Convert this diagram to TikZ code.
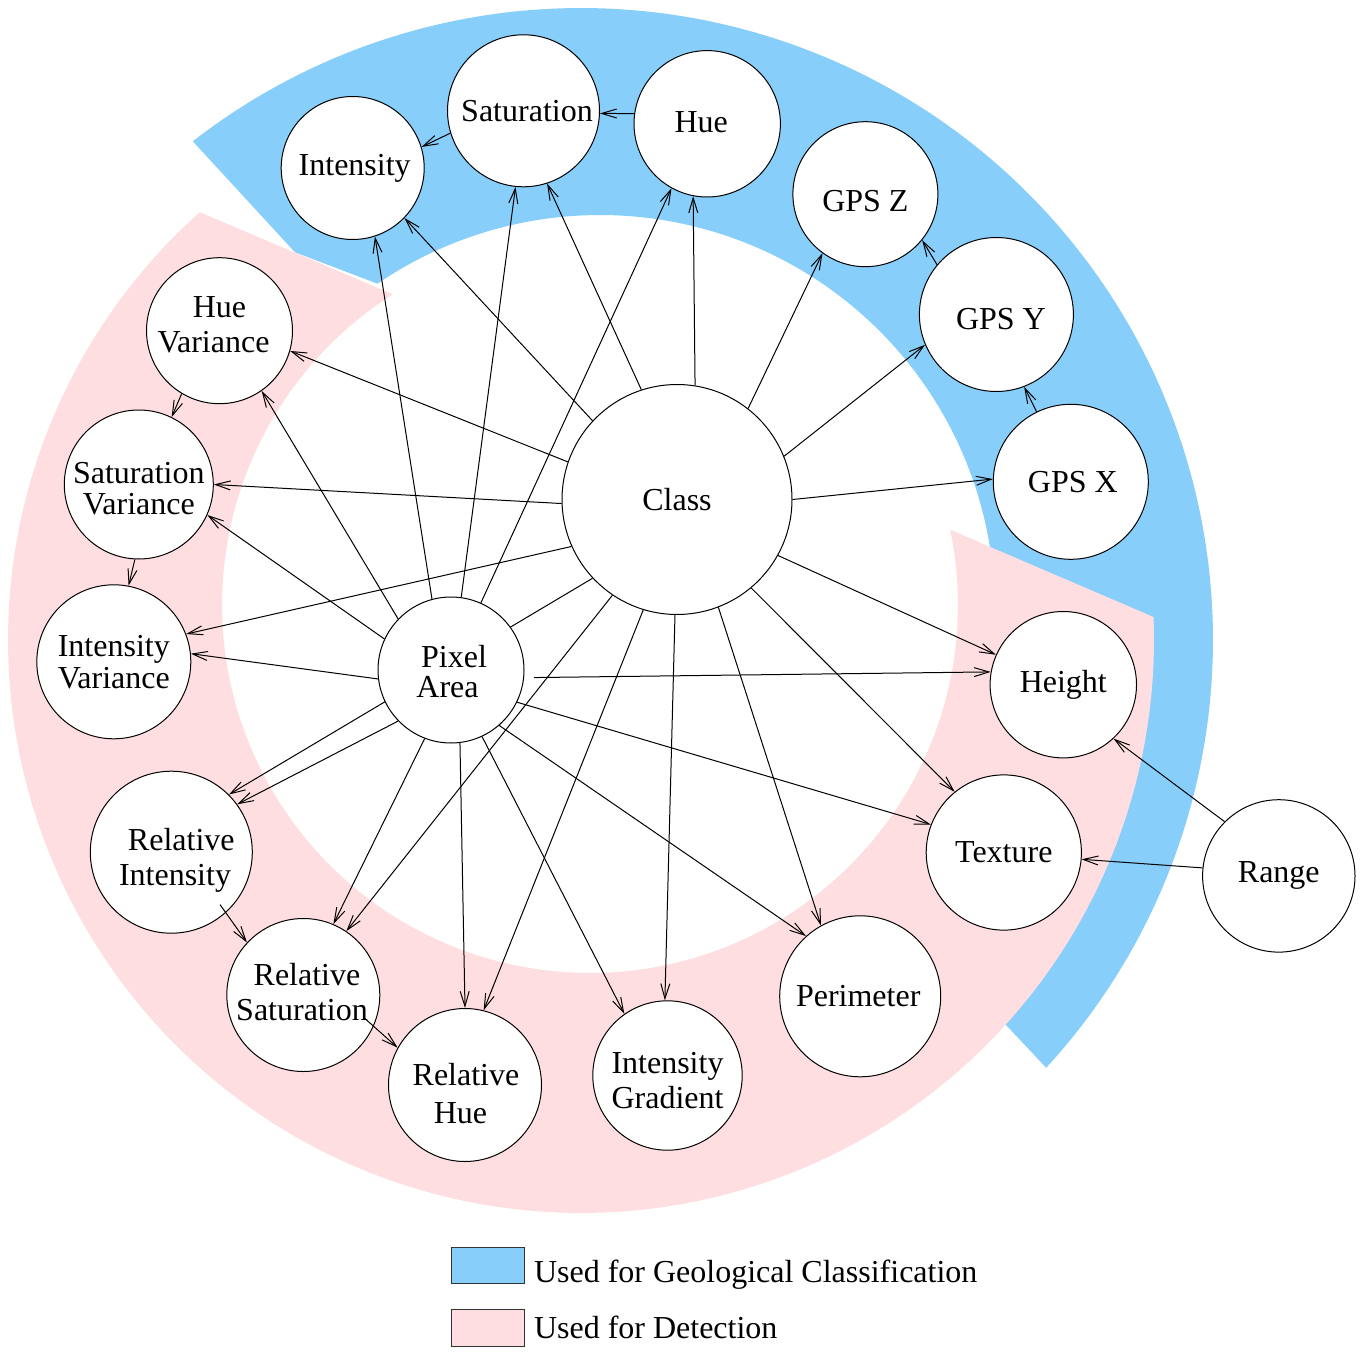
\documentclass[tikz,border=0pt]{standalone}
\usepackage{fontspec}
\setmainfont{Liberation Serif}
\usetikzlibrary{arrows.meta,calc}
\pgfdeclarelayer{bg}
\pgfdeclarelayer{edges}
\pgfsetlayers{bg,edges,main}
\definecolor{geoblue}{RGB}{135,206,250}
\definecolor{detpink}{RGB}{255,222,225}
\begin{document}
\begin{tikzpicture}[x=0.5pt,y=-0.5pt,
  vn/.style={circle,draw,line width=0.5pt,fill=white,inner sep=0pt},
  lb/.style={font=\fontsize{16}{17.5}\selectfont,align=center,inner sep=0pt},
  arr/.style={line width=0.5pt,-{Straight Barb[length=7.5pt,width=4.5pt]}},
  legbox/.style={draw=black!80,line width=0.5pt,minimum width=36.25pt,minimum height=18.3pt,
    inner sep=0pt,anchor=north west},
  legtext/.style={anchor=base west,inner sep=0pt,font=\fontsize{16}{17.5}\selectfont}]
\useasboundingbox (0,0) rectangle (1364,1353);

% background bands
\begin{pgfonlayer}{bg}
\fill[geoblue] plot[domain=-127.9:42.6,samples=150] ({581+632*cos(\x)},{640+632*sin(\x)})
  -- (960,976)
  -- plot[domain=45:-124.3,samples=150] ({600+395*cos(\x)},{610+395*sin(\x)})
  -- (295,252.3) -- cycle;
\fill[detpink] plot[domain=-2.3:228.3,samples=150] ({581+573*cos(\x)},{640+573*sin(\x)})
  -- plot[domain=237.6:-11.8,samples=150] ({590+368*cos(\x)},{605+368*sin(\x)})
  -- cycle;
\end{pgfonlayer}

% nodes (circles with their texts)
\node[vn,minimum size=115pt,label={[lb]center:Class}] (class) at (677,499.5) {};
\node[vn,minimum size=73pt,label={[lb,font=\fontsize{16}{15}\selectfont,xshift=-1.75pt,yshift=-0.6pt]center:\hspace*{6.5pt}Pixel\\Area}] (pa) at (451,670) {};
\node[vn,minimum size=71.5pt,label={[lb,xshift=1pt]center:Intensity}] (int) at (352.7,168) {};
\node[vn,minimum size=76pt,label={[lb,xshift=1.75pt]center:Saturation}] (sat) at (523.5,110.8) {};
\node[vn,minimum size=73.2pt,label={[lb,xshift=-3pt,yshift=0.85pt]center:Hue}] (hue) at (707.2,123.8) {};
\node[vn,minimum size=72.5pt,label={[lb,yshift=-3.5pt]center:GPS Z}] (gpsz) at (865.4,194.2) {};
\node[vn,minimum size=77pt,label={[lb,xshift=2.25pt,yshift=-2.5pt]center:GPS Y}] (gpsy) at (996.4,314.5) {};
\node[vn,minimum size=77.5pt,label={[lb,xshift=1pt]center:GPS X}] (gpsx) at (1070.8,481.8) {};
\node[vn,minimum size=73pt,label={[lb,yshift=3pt]center:Hue\\Variance\hspace*{6pt}}] (hv) at (219.5,330.7) {};
\node[vn,minimum size=74.5pt,label={[lb,font=\fontsize{16}{15.7}\selectfont,yshift=-2.2pt]center:Saturation\\Variance}] (sv) at (138.8,484.5) {};
\node[vn,minimum size=77pt,label={[lb,font=\fontsize{16}{16.15}\selectfont]center:Intensity\\Variance}] (iv) at (113.8,661.8) {};
\node[vn,minimum size=81pt,label={[lb,xshift=1.85pt,yshift=-4.3pt]center:\hspace*{6.3pt}Relative\\Intensity}] (ri) at (171.3,852.2) {};
\node[vn,minimum size=76.5pt,label={[lb,xshift=-0.65pt,yshift=1.25pt]center:\hspace*{5pt}Relative\\Saturation}] (rs) at (303.3,995) {};
\node[vn,minimum size=76.5pt,label={[lb,font=\fontsize{16}{19}\selectfont,xshift=0.5pt,yshift=-4.5pt]center:Relative\\Hue\hspace*{5.6pt}}] (rh) at (465,1085) {};
\node[vn,minimum size=74.7pt,label={[lb,yshift=-2.35pt]center:Intensity\\Gradient}] (ig) at (667.5,1075.5) {};
\node[vn,minimum size=80.5pt,label={[lb,xshift=-1pt]center:Perimeter}] (perim) at (860.2,996.3) {};
\node[vn,minimum size=77.6pt,label={[lb]center:Texture}] (texture) at (1003.8,852.5) {};
\node[vn,minimum size=73.2pt,label={[lb]center:Height}] (height) at (1063.3,684.7) {};
\node[vn,minimum size=76.2pt,label={[lb]center:Range}] (range) at (1278.8,875.9) {};

% edges
\begin{pgfonlayer}{edges}
\draw[arr] (class.137.5) -- (int.-44.7);
\draw[arr] (class.108.7) -- (sat.-72.3);
\draw[arr] (class.81.5) -- (hue.-101.2);
\draw[arr] (class.52) -- (gpsz.-126.1);
\draw[arr] (class.22.2) -- (gpsy.203.4);
\draw[arr] (class.0.1) -- (gpsx.178.8);
\draw[arr] (class.-29.8) -- (height.156.5);
\draw[arr] (class.-50) -- (texture.129.7);
\draw[arr] (class.-69.7) -- (perim.119.1);
\draw[arr] (class.-91) -- (ig.92.5);
\draw[arr] (class.-107.7) -- (rh.76.5);
\draw[arr] (class.-124.1) -- (rs.56.5);
\draw[arr] (class.-137) -- (ri.45.8);
\draw[arr] (class.-156.2) -- (iv.21.7);
\draw[arr] (class.-178.1) -- (sv.-0.9);
\draw[arr] (class.161.1) -- (hv.-16.4);

\draw[arr] (pa.105.4) -- (int.-72.4);
\draw[arr] (pa.82.8) -- (sat.-96.2);
\draw[arr] (pa.66.5) -- (hue.-119.3);
\draw[arr] (pa.136.1) -- (hv.-55.8);
\draw[arr] (pa.155.6) -- (sv.-24.1);
\draw[arr] (pa.187.8) -- (iv.6);
\draw[arr] (pa.-136.1) -- (ri.36.6);
\draw[arr] (pa.-111.1) -- (rs.67.7);
\draw[arr] (pa.-83) -- (rh.90.6);
\draw[arr] (pa.-65.8) -- (ig.125.7);
\draw[arr] (pa.-49.2) -- (perim.132.4);
\draw[arr] (pa.-26.3) -- (texture.159.7);
\draw[arr,shorten <=5pt] (pa.-6.9) -- (height.170.5);

\draw[arr] (hue.172.1) -- (sat.-2);
\draw[arr] (sat.-163.3) -- (int.17.1);
\draw[arr] (gpsy.140.1) -- (gpsz.-39.4);
\draw[arr] (gpsx.116.3) -- (gpsy.-69.1);
\draw[arr] (range.135.9) -- (height.-47);
\draw[arr] (range.174.3) -- (texture.-5.2);
\draw[arr] (hv.-121.7) -- (sv.64.7);
\draw[arr] (sv.-93.5) -- (iv.79.4);
\end{pgfonlayer}
\draw[arr,shorten <=-5pt] (ri.-48.4) -- (rs.137.6);
\draw[arr,shorten <=-6pt] (rs.-24) -- (rh.151.1);

% legend
\node[legbox,fill=geoblue] (legblue) at (451.4,1246.7) {};
\node[legbox,fill=detpink] (legpink) at (451.4,1309.3) {};
\node[legtext] (legbluetext) at (533.6,1282.7) {Used for Geological Classification};
\node[legtext] (legpinktext) at (533.6,1338.3) {Used for Detection};
\end{tikzpicture}
\end{document}
